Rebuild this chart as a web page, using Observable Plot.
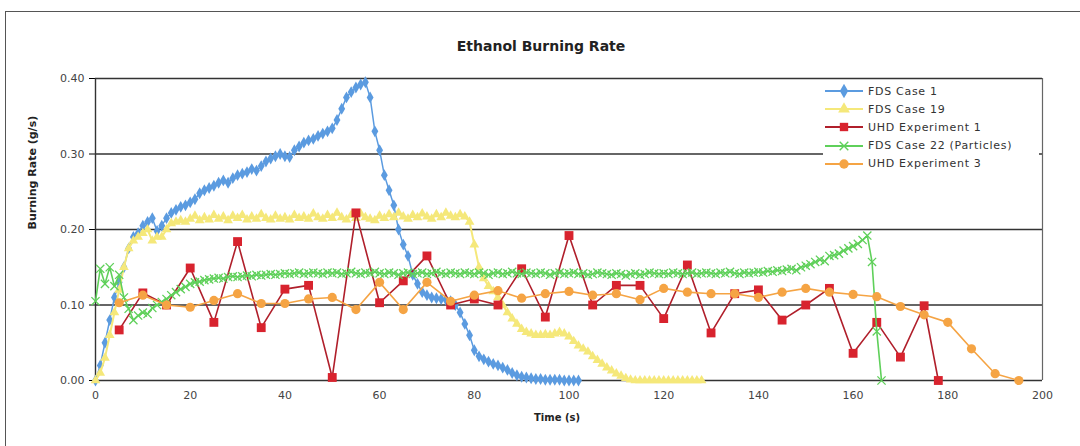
<!DOCTYPE html>
<html>
<head>
<meta charset="utf-8">
<script src="https://cdn.jsdelivr.net/npm/d3@7"></script>
<script src="https://cdn.jsdelivr.net/npm/@observablehq/plot@0.6"></script>
<style>
  html, body { margin: 0; padding: 0; background: #fff; }
  #wrap { position: relative; width: 1080px; height: 446px; overflow: hidden; }
  #border { position: absolute; left: 5px; top: 11px; width: 1100px; height: 460px;
            border-top: 1.5px solid #555; border-left: 1.5px solid #555; pointer-events: none; }
  #legend { position: absolute; left: 823px; top: 81px; width: 216px; height: 94px; background: #fff;
            font-family: "DejaVu Sans", Verdana, sans-serif; font-size: 11px; color: #333; letter-spacing: 0.7px; }
  .row { position: absolute; left: 0; height: 18px; display: flex; align-items: center; }
  .row svg { margin-right: 3px; }
</style>
</head>
<body>
<div id="wrap">
  <div id="chart"></div>
  <div id="border"></div>
  <div id="legend"></div>
</div>
<script>
// ---- data ----
const fdsTime = [0,1,2,3,4,5,6,7,8,9,10,11,12,13,14,15,16,17,18,19,20,21,22,23,24,25,26,27,28,29,30,31,32,33,34,35,36,37,38,39,40,41,42,43,44,45,46,47,48,49,50,51,52,53,54,55,56,57,58,59,60,61,62,63,64,65,66,67,68,69,70,71,72,73,74,75,76,77,78,79,80,81,82,83,84,85,86,87,88,89,90,91,92,93,94,95,96,97,98,99,100,101,102,103,104,105,106,107,108,109,110,111,112,113,114,115,116,117,118,119,120,121,122,123,124,125,126,127,128,129,130,131,132,133,134,135,136,137,138,139,140,141,142,143,144,145,146,147,148,149,150,151,152,153,154,155,156,157,158,159,160,161,162,163,164,165,166];

const fdsCase1 = [0,0.02,0.05,0.08,0.11,0.13,0.15,0.175,0.19,0.195,
  0.205,0.21,0.215,0.198,0.205,0.215,0.222,0.226,0.23,0.232,
  0.236,0.24,0.248,0.252,0.255,0.258,0.262,0.265,0.262,0.268,
  0.272,0.274,0.276,0.28,0.278,0.284,0.29,0.294,0.297,0.3,
  0.297,0.296,0.305,0.31,0.315,0.318,0.32,0.324,0.327,0.33,
  0.334,0.345,0.36,0.375,0.382,0.388,0.392,0.395,0.375,0.33,
  0.305,0.272,0.252,0.232,0.2,0.18,0.165,0.14,0.128,0.117,
  0.113,0.11,0.109,0.108,0.107,0.105,0.1,0.09,0.075,0.06,
  0.04,0.032,0.028,0.025,0.022,0.02,0.017,0.014,0.01,0.007,
  0.005,0.004,0.003,0.002,0.002,0.001,0.001,0.001,0.001,0,
  0,0,0];

const fdsCase19 = [0,0.01,0.03,0.06,0.09,0.12,0.15,0.175,0.185,0.19,
  0.195,0.2,0.185,0.19,0.19,0.2,0.208,0.21,0.212,0.21,
  0.214,0.218,0.212,0.216,0.213,0.219,0.214,0.217,0.212,0.218,
  0.215,0.219,0.213,0.217,0.214,0.22,0.215,0.213,0.218,0.214,
  0.216,0.213,0.219,0.215,0.217,0.214,0.221,0.216,0.214,0.219,
  0.215,0.222,0.216,0.213,0.219,0.215,0.221,0.216,0.214,0.212,
  0.218,0.215,0.22,0.216,0.222,0.217,0.214,0.219,0.216,0.221,
  0.217,0.214,0.22,0.216,0.222,0.218,0.216,0.22,0.217,0.21,
  0.18,0.15,0.135,0.125,0.118,0.11,0.1,0.09,0.082,0.075,
  0.068,0.064,0.062,0.06,0.06,0.061,0.06,0.062,0.064,0.062,
  0.058,0.052,0.046,0.042,0.038,0.032,0.027,0.022,0.017,0.013,
  0.009,0.006,0.003,0.001,0,0,0,0,0,0,
  0,0,0,0,0,0,0,0,0];

const fdsCase22 = [0.105,0.148,0.128,0.15,0.125,0.14,0.11,0.095,0.08,0.086,
  0.09,0.088,0.096,0.1,0.104,0.108,0.113,0.117,0.121,0.124,
  0.128,0.13,0.131,0.133,0.134,0.135,0.136,0.135,0.137,0.138,
  0.137,0.138,0.139,0.138,0.14,0.139,0.14,0.141,0.14,0.141,
  0.142,0.141,0.142,0.143,0.141,0.142,0.143,0.142,0.141,0.143,
  0.142,0.143,0.141,0.142,0.144,0.142,0.141,0.143,0.142,0.144,
  0.142,0.141,0.143,0.142,0.14,0.142,0.143,0.141,0.142,0.143,
  0.141,0.142,0.144,0.142,0.141,0.143,0.142,0.141,0.143,0.142,
  0.141,0.143,0.142,0.14,0.142,0.143,0.141,0.142,0.144,0.142,
  0.141,0.143,0.142,0.141,0.143,0.142,0.14,0.142,0.143,0.141,
  0.142,0.143,0.141,0.142,0.14,0.141,0.143,0.142,0.141,0.14,
  0.142,0.141,0.139,0.141,0.142,0.14,0.141,0.143,0.142,0.141,
  0.142,0.141,0.143,0.142,0.141,0.142,0.143,0.141,0.142,0.143,
  0.142,0.141,0.143,0.142,0.144,0.142,0.141,0.143,0.142,0.143,
  0.144,0.143,0.145,0.144,0.146,0.145,0.147,0.148,0.146,0.15,
  0.152,0.154,0.157,0.16,0.158,0.165,0.166,0.168,0.172,0.175,
  0.178,0.181,0.186,0.192,0.157,0.065,0];

const uhd1Time = [5,10,15,20,25,30,35,40,45,50,55,60,65,70,75,80,85,90,95,100,105,110,115,120,125,130,135,140,145,150,155,160,165,170,175,178];
const uhd1 = [0.067,0.116,0.1,0.149,0.077,0.184,0.07,0.121,0.126,0.004,0.222,0.103,0.132,0.165,0.1,0.108,0.1,0.148,0.084,0.192,0.1,0.126,0.126,0.082,0.153,0.063,0.115,0.12,0.08,0.1,0.122,0.036,0.077,0.031,0.099,0];

const uhd3Time = [5,10,15,20,25,30,35,40,45,50,55,60,65,70,75,80,85,90,95,100,105,110,115,120,125,130,135,140,145,150,155,160,165,170,175,180,185,190,195];
const uhd3 = [0.103,0.113,0.1,0.097,0.106,0.115,0.102,0.102,0.108,0.11,0.094,0.13,0.094,0.13,0.105,0.113,0.119,0.109,0.115,0.118,0.113,0.115,0.107,0.122,0.117,0.115,0.115,0.11,0.117,0.122,0.117,0.114,0.111,0.098,0.087,0.077,0.042,0.009,0];

const xTicks = [0,20,40,60,80,100,120,140,160,180,200];
const yTicks = [0,0.1,0.2,0.3,0.4];
const seriesNames = ["FDS Case 1","FDS Case 19","UHD Experiment 1","FDS Case 22 (Particles)","UHD Experiment 3"];

// ---- build tables ----
const zip = (ts, vs) => vs.map((v, i) => ({t: ts[i], v}));
const s1 = zip(fdsTime, fdsCase1);
const s19 = zip(fdsTime, fdsCase19);
const e1 = zip(uhd1Time, uhd1);
const s22 = zip(fdsTime, fdsCase22);
const e3 = zip(uhd3Time, uhd3);

const C = {blue: "#5b9be0", yellow: "#f5e87a", red: "#d8232e", redLine: "#b01f2b", green: "#5fd05a", orange: "#f5a444"};
const font = "DejaVu Sans, Verdana, sans-serif";

const chart = Plot.plot({
  width: 1080, height: 446,
  marginLeft: 95, marginRight: 38, marginTop: 78, marginBottom: 66,
  style: {fontFamily: font, background: "white"},
  x: {domain: [0, 200]},
  y: {domain: [0, 0.4]},
  marks: [
    Plot.ruleY(yTicks.filter(d => d > 0), {stroke: "#333", strokeWidth: 1.6}),
    Plot.ruleX([200], {stroke: "#666", strokeWidth: 1.2}),
    Plot.axisX({ticks: xTicks, tickSize: 5, tickPadding: 6, label: null, fontSize: 11, fill: "#444", stroke: null, style: {letterSpacing: "1.3px"}}),
    Plot.axisY({ticks: yTicks, tickSize: 6, tickPadding: 5, label: null, tickFormat: d3.format(".2f"), fontSize: 11, fill: "#444", style: {letterSpacing: "1.3px"}}),
    Plot.ruleY([0], {stroke: "#333", strokeWidth: 1.4}),
    Plot.ruleX([0], {stroke: "#333", strokeWidth: 1.4}),
    // FDS Case 1
    Plot.line(s1, {x: "t", y: "v", stroke: C.blue, strokeWidth: 1.5}),
    Plot.dot(s1, {x: "t", y: "v", symbol: "diamond", r: 3.6, fill: C.blue}),
    // FDS Case 19
    Plot.line(s19, {x: "t", y: "v", stroke: C.yellow, strokeWidth: 2}),
    Plot.dot(s19, {x: "t", y: "v", symbol: "triangle", r: 3.6, fill: C.yellow}),
    // UHD Experiment 1
    Plot.line(e1, {x: "t", y: "v", stroke: C.redLine, strokeWidth: 1.6}),
    Plot.dot(e1, {x: "t", y: "v", symbol: "square", r: 5, fill: C.red}),
    // FDS Case 22
    Plot.line(s22, {x: "t", y: "v", stroke: C.green, strokeWidth: 1.6}),
    Plot.dot(s22, {x: "t", y: "v", symbol: "times", r: 3.8, stroke: C.green, strokeWidth: 1.3}),
    // UHD Experiment 3
    Plot.line(e3, {x: "t", y: "v", stroke: C.orange, strokeWidth: 1.6}),
    Plot.dot(e3, {x: "t", y: "v", symbol: "circle", r: 4.6, fill: C.orange}),
    // titles
    Plot.text(["Ethanol Burning Rate"], {text: d => d, frameAnchor: "top", dy: -37, dx: -28, fontSize: 14, fontWeight: "bold", fill: "#222"}),
    Plot.text(["Time (s)"], {text: d => d, frameAnchor: "bottom", dy: 40, dx: -12, fontSize: 10, fontWeight: "bold", fill: "#222"}),
    Plot.text(["Burning Rate (g/s)"], {text: d => d, frameAnchor: "left", rotate: -90, dx: -63, fontSize: 11, fontWeight: "bold", fill: "#222"})
  ]
});
document.getElementById("chart").appendChild(chart);

// ---- legend ----
const legendStyles = [
  {color: C.blue, line: C.blue, sym: "diamond", size: 60, fill: true},
  {color: C.yellow, line: C.yellow, sym: "triangle", size: 60, fill: true},
  {color: C.red, line: C.redLine, sym: "square", size: 70, fill: true},
  {color: C.green, line: C.green, sym: "times", size: 50, fill: false},
  {color: C.orange, line: C.orange, sym: "circle", size: 70, fill: true}
];
const symMap = {diamond: d3.symbolDiamond, triangle: d3.symbolTriangle, square: d3.symbolSquare, times: d3.symbolTimes, circle: d3.symbolCircle};
const legend = document.getElementById("legend");
seriesNames.forEach((name, i) => {
  const st = legendStyles[i];
  const row = document.createElement("div");
  row.className = "row";
  row.style.top = (i * 18.2 + 1) + "px";
  const path = d3.symbol(symMap[st.sym], st.size)();
  row.innerHTML = `<svg width="40" height="14" viewBox="0 0 40 14" style="margin-left:2px">
      <line x1="0" y1="7" x2="38" y2="7" stroke="${st.line}" stroke-width="1.8"/>
      <path transform="translate(19,7)" d="${path}" ${st.fill ? `fill="${st.color}"` : `fill="none" stroke="${st.color}" stroke-width="1.4"`}/>
    </svg><span>${name}</span>`;
  legend.appendChild(row);
});
</script>
</body>
</html>
